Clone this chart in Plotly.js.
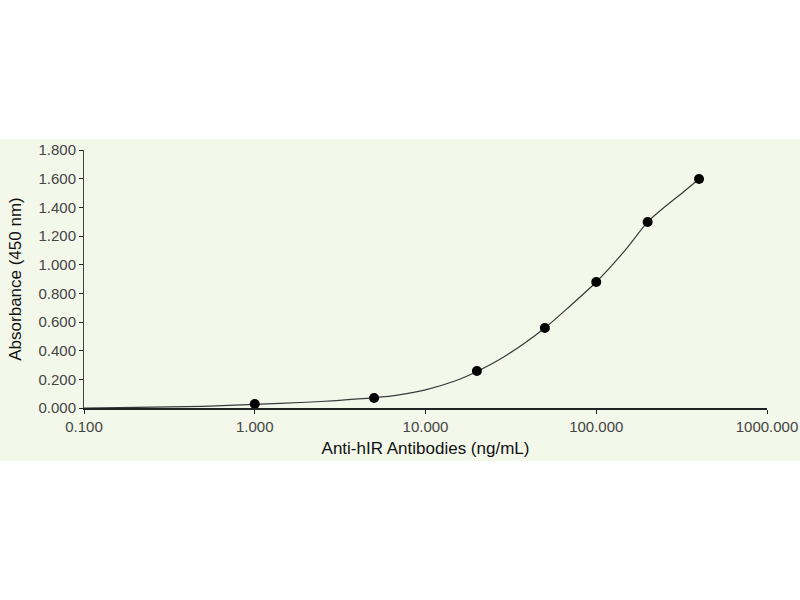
<!DOCTYPE html>
<html>
<head>
<meta charset="utf-8">
<script src="https://cdn.plot.ly/plotly-3.0.1.min.js"></script>
<style>
html,body{margin:0;padding:0;background:#ffffff;width:800px;height:600px;overflow:hidden;}
#chart{position:absolute;left:0;top:139px;width:800px;height:322px;}
</style>
</head>
<body>
<div id="chart"></div>
<script>
// Measured standards
const concentration = [1, 5, 20, 50, 100, 200, 400];
const absorbance = [0.028, 0.070, 0.258, 0.558, 0.879, 1.298, 1.598];

// Fitted curve
const curveX = [0.1, 0.2, 0.5, 1, 2, 3, 5, 7, 10, 15, 20, 30, 50, 70, 100, 150, 200, 250, 300, 400];
const curveY = [0.000, 0.004, 0.012, 0.025, 0.040, 0.052, 0.072, 0.092, 0.127, 0.190, 0.255, 0.370, 0.558, 0.710, 0.879, 1.110, 1.298, 1.400, 1.475, 1.598];

const xTickVals = [0.1, 1, 10, 100, 1000];
const xTickText = ['0.100', '1.000', '10.000', '100.000', '1000.000'];
const yTickVals = [0, 0.2, 0.4, 0.6, 0.8, 1.0, 1.2, 1.4, 1.6, 1.8];

const traces = [
  {
    x: curveX, y: curveY, type: 'scatter', mode: 'lines',
    line: {color: '#3a3a3a', width: 1.2, shape: 'spline', smoothing: 0.7},
    hoverinfo: 'skip', showlegend: false
  },
  {
    x: concentration, y: absorbance, type: 'scatter', mode: 'markers',
    marker: {color: '#000000', size: 10, symbol: 'circle'},
    showlegend: false
  }
];

const layout = {
  width: 800, height: 322,
  paper_bgcolor: '#f3f8ea',
  plot_bgcolor: '#f3f8ea',
  margin: {l: 84, r: 33, t: 11, b: 53},
  font: {family: 'Liberation Sans, Arial, sans-serif', color: '#000'},
  showlegend: false,
  xaxis: {
    type: 'log',
    range: [-1, 3],
    tickvals: xTickVals,
    ticktext: xTickText,
    ticks: 'outside', ticklen: 4, tickcolor: '#222', tickwidth: 1,
    showline: true, linecolor: '#222', linewidth: 1.5,
    showgrid: false, zeroline: false,
    tickfont: {size: 15, color: '#444'},
    title: {text: 'Anti-hIR Antibodies (ng/mL)', font: {size: 17, color: '#111'}, standoff: 8}
  },
  yaxis: {
    range: [0, 1.8],
    tickvals: yTickVals,
    tickformat: '.3f',
    ticks: 'outside', ticklen: 4, tickcolor: '#222', tickwidth: 1,
    showline: true, linecolor: '#444', linewidth: 1,
    showgrid: false, zeroline: false,
    tickfont: {size: 15, color: '#444'},
    title: {text: 'Absorbance (450 nm)', font: {size: 17, color: '#111'}, standoff: 12}
  }
};

Plotly.newPlot('chart', traces, layout, {displayModeBar: false, staticPlot: true});
</script>
</body>
</html>
